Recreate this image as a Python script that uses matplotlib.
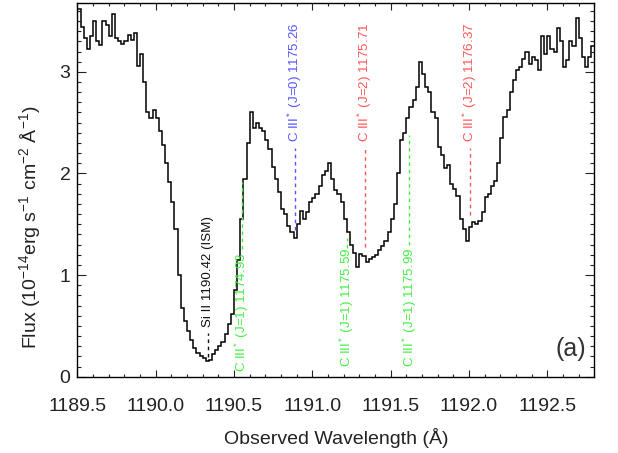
import numpy as np
import matplotlib
matplotlib.use("Agg")
import matplotlib.pyplot as plt
from matplotlib.ticker import MultipleLocator

plt.rcParams['font.family'] = ['Liberation Sans', 'DejaVu Sans']
plt.rcParams['mathtext.fontset'] = 'custom'
plt.rcParams['mathtext.rm'] = 'Liberation Sans'
plt.rcParams['mathtext.it'] = 'Liberation Sans:italic'
plt.rcParams['mathtext.bf'] = 'Liberation Sans:bold'

# ---- spectrum (step histogram, 0.02 A bins starting at 1189.50 A) ----
wave_start = 1189.50
bin_width = 0.02
flux = [
    3.62, 3.44, 3.33, 3.22, 3.35, 3.50, 3.30, 3.26, 3.50, 3.46,
    3.35, 3.57, 3.33, 3.30, 3.27, 3.30, 3.36, 3.31, 3.38, 3.06,
    3.18, 2.90, 2.60, 2.55, 2.62, 2.55, 2.42, 2.28, 2.10, 1.92,
    1.72, 1.45, 1.00, 0.68, 0.55, 0.45, 0.36, 0.28, 0.23, 0.20,
    0.18, 0.15, 0.16, 0.22, 0.26, 0.30, 0.34, 0.42, 0.52, 0.62,
    0.85, 1.15, 1.55, 1.95, 2.30, 2.60, 2.45, 2.50, 2.45, 2.42,
    2.33, 2.24, 2.06, 1.95, 1.82, 1.65, 1.60, 1.48, 1.42, 1.36,
    1.50, 1.63, 1.55, 1.62, 1.72, 1.76, 1.80, 1.88, 1.98, 2.02,
    2.10, 1.95, 1.84, 1.80, 1.72, 1.55, 1.42, 1.30, 1.22, 1.08,
    1.21, 1.19, 1.13, 1.16, 1.18, 1.20, 1.25, 1.29, 1.34, 1.42,
    1.55, 1.70, 2.00, 2.33, 2.40, 2.55, 2.65, 2.72, 2.85, 3.10,
    2.98, 2.85, 2.80, 2.60, 2.55, 2.26, 2.18, 2.05, 2.08, 1.90,
    1.85, 1.78, 1.55, 1.45, 1.34, 1.47, 1.52, 1.50, 1.53, 1.62,
    1.77, 1.80, 1.88, 1.93, 2.10, 2.35, 2.56, 2.62, 2.80, 2.92,
    3.02, 3.05, 3.13, 3.20, 3.08, 3.15, 3.12, 3.02, 3.35, 3.18,
    3.35, 3.22, 3.20, 3.43, 3.30, 3.05, 3.12, 3.30, 3.25, 3.53,
    3.33, 3.15, 3.05, 3.15, 3.25, 3.25,
]

# ---- line identifications ----
line_waves = [1190.336, 1190.55, 1190.89, 1191.22, 1191.337, 1191.62, 1192.008]
line_labels = [
    "Si II 1190.42 (ISM)",
    "C III$^*$ (J=1) 1174.93",
    "C III$^*$ (J=0) 1175.26",
    "C III$^*$ (J=1) 1175.59",
    "C III$^*$ (J=2) 1175.71",
    "C III$^*$ (J=1) 1175.99",
    "C III$^*$ (J=2) 1176.37",
]
line_colors = ['#111111', '#44ee44', '#5555ff', '#44ee44', '#ff5555', '#44ee44', '#ff5555']
line_top = [0.43, 1.92, 2.25, 1.36, 2.25, 2.38, 2.25]
line_bottom = [0.19, 1.26, 1.44, 1.27, 1.28, 1.30, 1.59]
text_y = [0.49, 1.22, 2.31, 1.27, 2.31, 1.27, 2.31]
text_above = [True, False, True, False, True, False, True]

xticks = [1189.5, 1190.0, 1190.5, 1191.0, 1191.5, 1192.0, 1192.5]
yticks = [0, 1, 2, 3]

fig = plt.figure(figsize=(6.18, 4.53), dpi=100)
ax = fig.add_axes([0.1252, 0.1684, 0.9617 - 0.1252, 0.994 - 0.1684])

edges = wave_start + bin_width * np.arange(len(flux) + 1)
ax.stairs(flux, edges, color='black', lw=1.1, baseline=None)

for w, lab, c, yt, yb, ty, up in zip(line_waves, line_labels, line_colors,
                                      line_top, line_bottom, text_y, text_above):
    ax.plot([w, w], [yb, yt], color=c, lw=1.0, linestyle=(0, (2.6, 2.6)))
    ax.text(w, ty, lab, color=c, rotation=90, fontsize=9.6,
            ha='center', va='bottom' if up else 'top')

ax.text(1192.745, 0.27, "(a)", fontsize=18, ha='right', va='center', color='#333333')

ax.set_xlim(1189.5, 1192.8)
ax.set_ylim(0, 3.68)
ax.set_xticks(xticks)
ax.set_xticklabels([f"{t:.1f}" for t in xticks])
ax.set_yticks(yticks)
ax.set_yticklabels([str(t) for t in yticks])
ax.xaxis.set_minor_locator(MultipleLocator(0.1))
ax.yaxis.set_minor_locator(MultipleLocator(0.1))

ax.tick_params(axis='both', which='both', direction='in', top=True, right=True,
               labelsize=14, colors='#222222', width=0.8)
ax.tick_params(axis='x', which='major', length=5.0, pad=15)
ax.tick_params(axis='x', which='minor', length=2.5)
ax.tick_params(axis='y', which='major', length=6.8, pad=5)
ax.tick_params(axis='y', which='minor', length=3.2)
for s in ax.spines.values():
    s.set_linewidth(1.0)

fig.text(335.8 / 618, 1 - 438 / 453, "Observed Wavelength (Å)", fontsize=14,
         ha='center', va='center', color='#222222')
fig.text(30 / 618, 1 - 227 / 453,
         "Flux (10$^{-14}$erg s$^{-1}$ cm$^{-2}$ Å$^{-1}$)", fontsize=14,
         rotation=90, ha='center', va='center', color='#222222')

fig.savefig("out.png", dpi=100)
